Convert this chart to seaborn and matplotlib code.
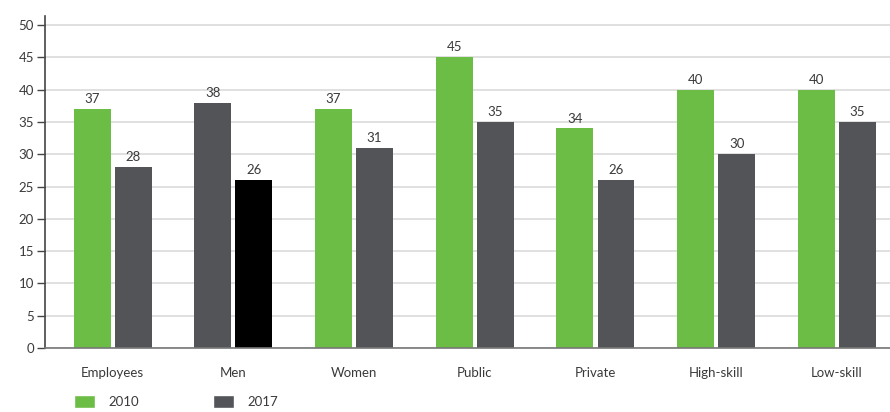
import matplotlib
matplotlib.use("Agg")
import matplotlib.pyplot as plt
import seaborn as sns
import pandas as pd
from matplotlib.patches import Patch

categories = ["Employees", "Men", "Women", "Public", "Private", "High-skill", "Low-skill"]
years = ["2010", "2017"]
values_2010 = [37, 38, 37, 45, 34, 40, 40]
values_2017 = [28, 26, 31, 35, 26, 30, 35]

GREEN = "#6cbd45"
GREY = "#535458"
BLACK = "#000000"
TEXT = "#3a3a3a"

df = pd.DataFrame({
    "category": categories * 2,
    "year": [years[0]] * len(categories) + [years[1]] * len(categories),
    "value": values_2010 + values_2017,
})

sns.set_theme(style="white")
plt.rcParams["font.family"] = ["Lato", "DejaVu Sans"]

fig = plt.figure(figsize=(8.9, 4.12), dpi=100)
ax = fig.add_axes([45 / 890, 64 / 412, 845 / 890, 332 / 412])

sns.barplot(data=df, x="category", y="value", hue="year", order=categories,
            hue_order=years, palette=[GREEN, GREY], width=0.68, gap=0.1,
            ax=ax, legend=False, saturation=1)

# The "Men" group is shaded grey / black instead of green / grey
n = len(categories)
bars = ax.patches[: 2 * n]
bars[1].set_facecolor(GREY)
bars[n + 1].set_facecolor(BLACK)

for b in bars:
    b.set_edgecolor("none")
    h = b.get_height()
    ax.text(b.get_x() + b.get_width() / 2, h + 0.6, f"{h:.0f}",
            ha="center", va="bottom", fontsize=9.5, color=TEXT)

ax.set_xlim(-0.56, 6.44)
ax.set_ylim(0, 51.4)
ax.set_yticks(range(0, 51, 5))
ax.yaxis.grid(True, color="#e0e0e0", linewidth=1.4)
ax.set_axisbelow(True)
ax.set_xlabel("")
ax.set_ylabel("")

for side in ["top", "right"]:
    ax.spines[side].set_visible(False)
ax.spines["left"].set_color("#444444")
ax.spines["left"].set_linewidth(1.2)
ax.spines["bottom"].set_color("#777777")
ax.spines["bottom"].set_linewidth(1.2)

ax.tick_params(axis="y", left=True, length=6, width=1, color="#444444",
               labelsize=9.5, labelcolor=TEXT, pad=2)
ax.tick_params(axis="x", bottom=False, labelsize=9.5, labelcolor=TEXT, pad=8)

handles = [Patch(facecolor=GREEN, label="2010"), Patch(facecolor=GREY, label="2017")]
fig.legend(handles=handles, loc="lower left", bbox_to_anchor=(62 / 890, -0.02),
           ncol=2, frameon=False, fontsize=9.5, handlelength=1.6, handleheight=1.2,
           columnspacing=5.6, handletextpad=1.0, labelcolor=TEXT)

fig.savefig("out.png", dpi=100)
